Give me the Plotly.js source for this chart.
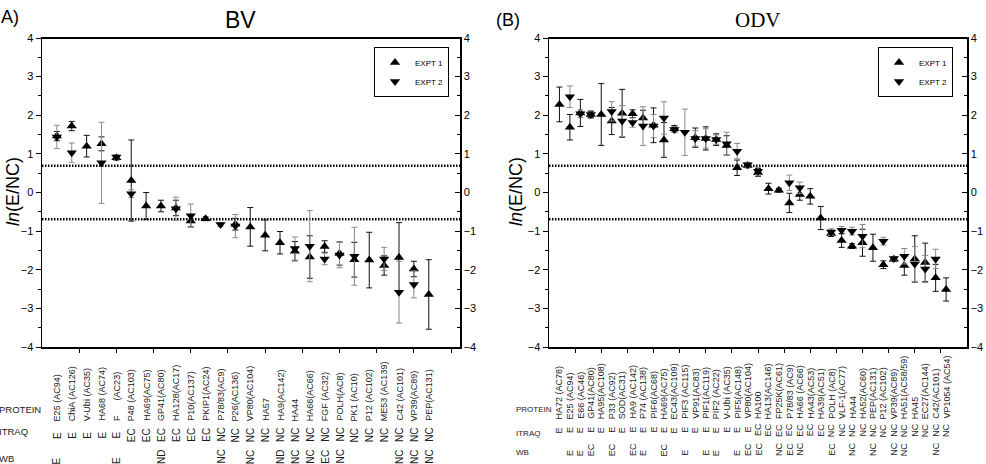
<!DOCTYPE html>
<html>
<head>
<meta charset="utf-8">
<script src="https://cdn.plot.ly/plotly-3.0.1.min.js"></script>
<style>
  html, body { margin: 0; padding: 0; background: #fff; }
  #chart { width: 986px; height: 464px; }
</style>
</head>
<body>
<div id="chart"></div>
<script>
// ---------- BV proteins ----------
const bvProteins = ["E25 (AC94)", "ChiA (AC126)", "V-Ubi (AC35)", "HA68 (AC74)", "F\u00a0\u00a0\u00a0\u00a0\u00a0\u00a0(AC23)",
  "P48 (AC103)", "HA69(AC75)", "GP41(AC80)", "HA128(AC17)", "P10(AC137)", "PKIP1(AC24)", "P78/83(AC9)",
  "P26(AC136)", "VP80(AC104)", "HA57", "HA9(AC142)", "HA44", "HA66(AC66)", "FGF (AC32)", "POLH(AC8)",
  "PK1 (AC10)", "P12 (AC102)", "ME53 (AC139)", "C42 (AC101)", "VP39(AC89)", "PEP(AC131)"];
const bvItraq = ["E", "E", "E", "E", "E", "EC", "EC", "EC", "EC", "EC", "EC", "NC", "NC", "NC", "NC", "NC",
  "NC", "NC", "NC", "NC", "NC", "NC", "NC", "NC", "NC", "NC"];
const bvWb = ["E", "", "", "", "E", "", "", "ND", "", "", "", "NC", "", "NC", "", "ND", "NC", "NC", "EC", "NC",
  "", "", "", "NC", "NC", "NC"];
const bvExpt1 = [1.46, 1.72, 1.20, 1.26, 0.90, 0.31, -0.35, -0.35, -0.40, -0.74, -0.68, null, -0.82, -0.89,
  -1.11, -1.30, -1.52, -1.67, -1.40, -1.58, -1.74, -1.75, -1.89, -1.68, -1.98, -2.64];
const bvExpt1Err = [0.12, 0.12, 0.28, 0.18, 0.06, 1.05, 0.35, 0.15, 0.20, 0.15, 0.05, null, 0.15, 0.50,
  0.40, 0.29, 0.25, 0.55, 0.15, 0.30, 0.45, 0.72, 0.25, 0.90, 0.20, 0.90];
const bvExpt2 = [1.44, 1.03, null, 0.77, 0.92, -0.03, null, null, -0.42, -0.60, null, -0.83, -0.87, null,
  null, null, -1.45, -1.39, -1.72, -1.62, -1.65, null, -1.72, -2.58, -2.38, null];
const bvExpt2Err = [0.30, 0.25, null, 1.05, 0.05, 0.10, null, null, 0.30, 0.30, null, 0.05, 0.30, null,
  null, null, 0.30, 0.92, 0.15, 0.33, 0.75, null, 0.30, 0.80, 0.35, null];

// ---------- ODV proteins ----------
const odvProteins = ["HA72 (AC78)", "E25 (AC94)", "E66 (AC46)", "GP41(AC80)", "HA95(AC108)", "P33 (AC92)",
  "SOD(AC31)", "HA9 (AC142)", "P74 (AC138)", "PIF6(AC68)", "HA69(AC75)", "EC43(AC109)", "PIF3 (AC115)",
  "VP91(AC83)", "PIF1(AC119)", "PIF2 (AC22)", "V-Ubi (AC35)", "PIF5(AC148)", "VP80(AC104)", "HA100",
  "HA13(AC146)", "FP25K(AC61)", "P78/83 (AC9)", "HA66 (AC66)", "HA43(AC53)", "HA39(AC51)", "POLH (AC8)",
  "VLF-1(AC77)", "HA44", "HA52(AC60)", "PEP(AC131)", "P12 (AC102)", "VP39(AC89)", "HA51(AC58/59)", "HA45",
  "EC27(AC144)", "C42(AC101)", "VP1054 (AC54)"];
const odvItraq = ["E", "E", "E", "E", "E", "E", "E", "E", "E", "E", "E", "E", "E", "E", "E", "E", "E", "E", "E",
  "EC", "EC", "EC", "EC", "EC", "EC", "EC",
  "NC", "NC", "NC", "NC", "NC", "NC", "NC", "NC", "NC", "NC", "NC", "NC"];
const odvWb = ["", "E", "E", "EC", "", "EC", "", "EC", "E", "", "EC", "", "E", "", "E", "E", "", "E", "EC", "EC",
  "", "NC", "EC", "NC", "", "", "EC", "", "NC", "", "NC", "", "NC", "NC", "", "", "NC", ""];
const odvExpt1 = [2.28, 1.69, 2.06, 2.02, 2.02, 1.85, 2.05, 2.04, 1.93, 1.74, 1.36, 1.65, null, 1.42, 1.40,
  1.37, 1.22, 0.64, 0.70, 0.52, 0.10, 0.06, -0.27, -0.05, -0.10, -0.66, -1.06, -1.24, -1.39, -1.30, -1.43,
  -1.87, -1.73, -1.89, -1.72, -1.81, -2.21, -2.51];
const odvExpt1Err = [0.45, 0.33, 0.35, 0.08, 0.80, 0.35, 0.62, 0.10, 0.20, 0.45, 0.45, 0.08, null, 0.25, 0.30,
  0.15, 0.25, 0.20, 0.06, 0.10, 0.14, 0.05, 0.25, 0.15, 0.20, 0.30, 0.08, 0.18, 0.06, 0.35, 0.35,
  0.10, 0.05, 0.25, 0.60, 0.50, 0.35, 0.30];
const odvExpt2 = [null, 2.48, 2.04, 2.02, null, 2.10, 1.85, 1.81, 1.72, 1.72, 1.93, 1.63, 1.56, 1.40, 1.40,
  1.37, 1.26, 1.07, 0.72, 0.55, null, null, 0.25, 0.12, null, null, -1.02, -0.98, -1.00, -1.13, null,
  -1.26, -1.71, -1.65, -1.85, -1.98, -1.72, null];
const odvExpt2Err = [null, 0.28, 0.10, 0.10, null, 0.25, 0.40, 0.12, 0.50, 0.30, 0.42, 0.08, 0.60, 0.20, 0.25,
  0.12, 0.30, 0.20, 0.06, 0.10, null, null, 0.20, 0.15, null, null, 0.08, 0.10, 0.10, 0.30, null,
  0.10, 0.05, 0.20, 0.45, 0.35, 0.25, null];

// two-fold change cut-off drawn as dotted lines
const CUTOFF = Math.log(2);
const seriesNames = ["EXPT 1", "EXPT 2"];

const SANS = "Liberation Sans, Arial, sans-serif";
const W = 986, H = 464;
const px = v => v / W;           // horizontal pixel -> paper
const py = v => 1 - v / H;       // vertical pixel -> paper

const positions = arr => arr.map((_, i) => i + 1);

function series(xa, ya, xs, ys, err, name, symbol, barColor, legendId) {
  return {
    type: "scatter", mode: "markers", name: name,
    x: xs, y: ys, xaxis: xa, yaxis: ya, legend: legendId,
    marker: { symbol: symbol, size: 9, color: "#000" },
    error_y: { type: "data", array: err, visible: true, color: barColor, thickness: 1, width: 3 },
    cliponaxis: false
  };
}

const bvX = positions(bvProteins);
const odvX = positions(odvProteins);

// EXPT 2 sits on the right-hand axis of each panel (same range as the left one)
const traces = [
  series("x", "y", bvX, bvExpt1, bvExpt1Err, seriesNames[0], "triangle-up", "#111", "legend"),
  series("x", "y2", bvX, bvExpt2, bvExpt2Err, seriesNames[1], "triangle-down", "#8a8a8a", "legend"),
  series("x2", "y3", odvX, odvExpt1, odvExpt1Err, seriesNames[0], "triangle-up", "#111", "legend2"),
  series("x2", "y4", odvX, odvExpt2, odvExpt2Err, seriesNames[1], "triangle-down", "#8a8a8a", "legend2")
];

const bvFrame = [42, 460];
const odvFrame = [549, 967];
const frameTop = 38, frameBottom = 347;
const bvDomainX = bvFrame.map(px);
const odvDomainX = odvFrame.map(px);
const domainY = [py(frameBottom), py(frameTop)];
const bvTicks = []; for (let t = 2.5; t < 28; t += 2.5) bvTicks.push(t);
const odvTicks = []; for (let t = 2.5; t < 40; t += 2.5) odvTicks.push(t);

function xAxis(domain, range, ticks, anchor) {
  return {
    domain: domain, range: range, anchor: anchor,
    showline: true, linecolor: "#000", linewidth: 1.5, mirror: true,
    ticks: "outside", ticklen: 4, tickwidth: 1, tickcolor: "#000",
    tickvals: ticks, showticklabels: false, showgrid: false, zeroline: false, fixedrange: true
  };
}
function yAxis(side, anchor, overlay, tickDir) {
  const ax = {
    range: [-4, 4], dtick: 1, tick0: 0, anchor: anchor, side: side,
    showline: true, linecolor: "#000", linewidth: 1.5,
    ticks: tickDir, ticklen: 5, tickwidth: 1, tickcolor: "#000",
    minor: { dtick: 0.5, ticks: tickDir, ticklen: 3, tickcolor: "#000" },
    tickfont: { family: SANS, size: 11, color: "#000" },
    showgrid: false, zeroline: false, fixedrange: true
  };
  if (overlay) ax.overlaying = overlay; else ax.domain = domainY;
  return ax;
}

const annotations = [];
function addLabels(names, itraq, wb, xref, fontLabel, fontCode, rows) {
  names.forEach((name, i) => {
    annotations.push({ text: name, x: i + 1, xref: xref, y: rows.protein, yref: "paper",
      textangle: -90, xanchor: "center", yanchor: "bottom", showarrow: false,
      font: { family: SANS, size: fontLabel, color: "#1a1a1a" } });
    annotations.push({ text: itraq[i], x: i + 1, xref: xref, y: rows.itraq, yref: "paper",
      textangle: -90, xanchor: "center", yanchor: "middle", showarrow: false,
      font: { family: SANS, size: fontCode, color: "#1a1a1a" } });
    if (wb[i]) {
      annotations.push({ text: wb[i], x: i + 1, xref: xref, y: rows.wb, yref: "paper",
        textangle: -90, xanchor: "center", yanchor: "bottom", showarrow: false,
        font: { family: SANS, size: fontCode, color: "#1a1a1a" } });
    }
  });
}
addLabels(bvProteins, bvItraq, bvWb, "x", 9, 10, { protein: py(423), itraq: py(435), wb: py(466) });
addLabels(odvProteins, odvItraq, odvWb, "x2", 9, 9, { protein: py(421), itraq: py(430), wb: py(458) });

function rowHeads(x, ys, size) {
  ["PROTEIN", "ITRAQ", "WB"].forEach((t, k) => {
    annotations.push({ text: t, x: x, xref: "paper", y: ys[k], yref: "paper", xanchor: "left",
      yanchor: "middle", showarrow: false, font: { family: SANS, size: size, color: "#1a1a1a" } });
  });
}
rowHeads(px(-3), [py(409), py(431), py(458)], 9.5);
rowHeads(px(514), [py(409), py(433), py(452)], 8);

// panel titles, panel letters and y-axis titles
annotations.push(
  { text: "BV", x: px(240), y: py(20), xref: "paper", yref: "paper", xanchor: "center", yanchor: "middle",
    showarrow: false, font: { family: SANS, size: 23, color: "#000" } },
  { text: "ODV", x: px(758), y: py(20), xref: "paper", yref: "paper", xanchor: "center", yanchor: "middle",
    showarrow: false, font: { family: "Liberation Serif, Times New Roman, serif", size: 21, color: "#000" } },
  { text: "A)", x: px(-1), y: py(17), xref: "paper", yref: "paper", xanchor: "left", yanchor: "middle",
    showarrow: false, font: { family: SANS, size: 18, color: "#000" } },
  { text: "(B)", x: px(494), y: py(20), xref: "paper", yref: "paper", xanchor: "left", yanchor: "middle",
    showarrow: false, font: { family: SANS, size: 18, color: "#000" } },
  { text: "<i>ln</i>(E/NC)", x: px(13), y: py(192), xref: "paper", yref: "paper", textangle: -90,
    xanchor: "center", yanchor: "middle", showarrow: false, font: { family: SANS, size: 18, color: "#000" } },
  { text: "<i>ln</i>(E/NC)", x: px(516), y: py(192), xref: "paper", yref: "paper", textangle: -90,
    xanchor: "center", yanchor: "middle", showarrow: false, font: { family: SANS, size: 18, color: "#000" } }
);

const shapes = [];
[["x", "y", bvFrame], ["x2", "y3", odvFrame]].forEach(([xa, ya, frame]) => {
  [CUTOFF, -CUTOFF].forEach(v => {
    shapes.push({ type: "line", xref: xa + " domain", yref: ya, x0: 0, x1: 1, y0: v, y1: v,
      line: { color: "#000", width: 2.5, dash: "1.5px,1.5px" }, layer: "below" });
  });
  // top edge of the frame, drawn on the paper so it is never clipped
  shapes.push({ type: "line", xref: "paper", yref: "paper", x0: px(frame[0]), x1: px(frame[1]),
    y0: py(frameTop), y1: py(frameTop), line: { color: "#000", width: 2 }, layer: "above" });
});

const legendStyle = (left, top) => ({
  x: px(left), y: py(top), xanchor: "left", yanchor: "top",
  bgcolor: "#fff", bordercolor: "#000", borderwidth: 1,
  font: { family: SANS, size: 8, color: "#000" }, itemwidth: 30, tracegroupgap: 2
});

const layout = {
  width: W, height: H,
  margin: { l: 0, r: 0, t: 0, b: 0 },
  paper_bgcolor: "#fff", plot_bgcolor: "rgba(0,0,0,0)",
  showlegend: true,
  xaxis: xAxis(bvDomainX, [0, 28.1], bvTicks, "y"),
  yaxis: yAxis("left", "x", null, "outside"),
  yaxis2: yAxis("right", "x", "y", "inside"),
  xaxis2: xAxis(odvDomainX, [0, 40], odvTicks, "y3"),
  yaxis3: yAxis("left", "x2", null, "outside"),
  yaxis4: yAxis("right", "x2", "y3", "inside"),
  legend: legendStyle(374, 47),
  legend2: legendStyle(878, 47),
  annotations: annotations,
  shapes: shapes
};

Plotly.newPlot("chart", traces, layout, { displayModeBar: false, staticPlot: true });
</script>
</body>
</html>
